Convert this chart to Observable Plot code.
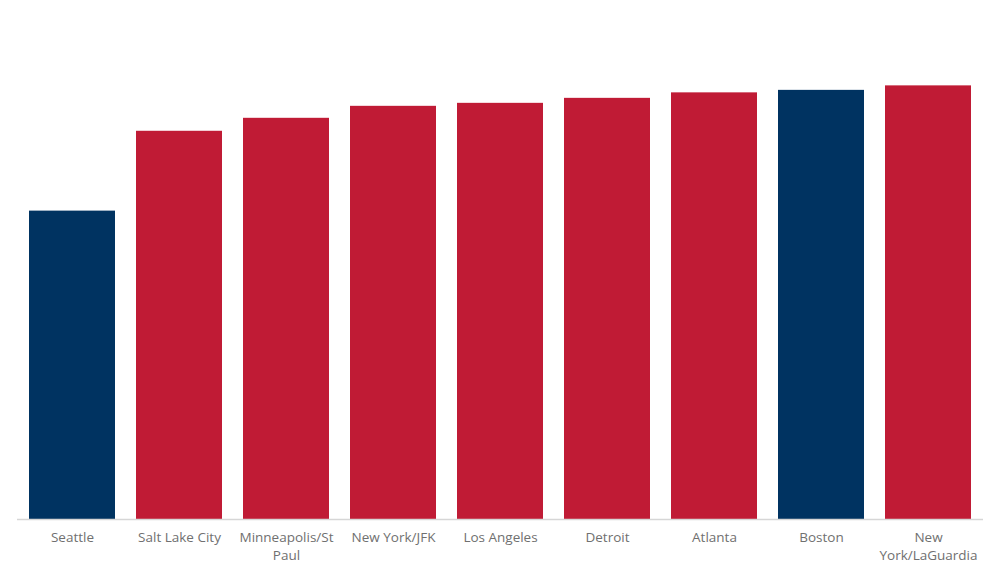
<!DOCTYPE html>
<html>
<head>
<meta charset="utf-8">
<script src="https://cdn.jsdelivr.net/npm/d3@7"></script>
<script src="https://cdn.jsdelivr.net/npm/@observablehq/plot@0.6"></script>
<style>
  html, body { margin: 0; padding: 0; background: #fff; }
  #chart { width: 1000px; height: 575px; }
</style>
</head>
<body>
<div id="chart"></div>
<script>
const airports = ["Seattle", "Salt Lake City", "Minneapolis/St Paul", "New York/JFK", "Los Angeles", "Detroit", "Atlanta", "Boston", "New York/LaGuardia"];
const tickLabels = ["Seattle", "Salt Lake City", "Minneapolis/St\nPaul", "New York/JFK", "Los Angeles", "Detroit", "Atlanta", "Boston", "New\nYork/LaGuardia"];
const values = [61.8, 77.8, 80.4, 82.8, 83.4, 84.4, 85.5, 86.0, 86.9];
const highlighted = ["Seattle", "Boston"];

const data = airports.map((a, i) => ({airport: a, value: values[i], hl: highlighted.includes(a)}));
const labelOf = new Map(airports.map((a, i) => [a, tickLabels[i]]));

const chart = Plot.plot({
  width: 1000,
  height: 575,
  marginTop: 20,
  marginBottom: 56,
  marginLeft: 17,
  marginRight: 17,
  style: {fontFamily: "'Open Sans', Lato, sans-serif", background: "#fff"},
  x: {domain: airports, paddingInner: 0.2, paddingOuter: 0.1, label: null},
  y: {domain: [0, 100], axis: null},
  marks: [
    Plot.barY(data, {x: "airport", y: "value", fill: d => d.hl ? "#003361" : "#c01b35"}),
    Plot.ruleY([0], {stroke: "#d6d6d6", strokeWidth: 1.5}),
    Plot.axisX({
      tickSize: 0,
      tickPadding: 10,
      tickFormat: d => labelOf.get(d),
      fontSize: 13.5,
      lineHeight: 1.3,
      fill: "#707070",
      label: null
    })
  ]
});
document.getElementById("chart").appendChild(chart);
</script>
</body>
</html>
